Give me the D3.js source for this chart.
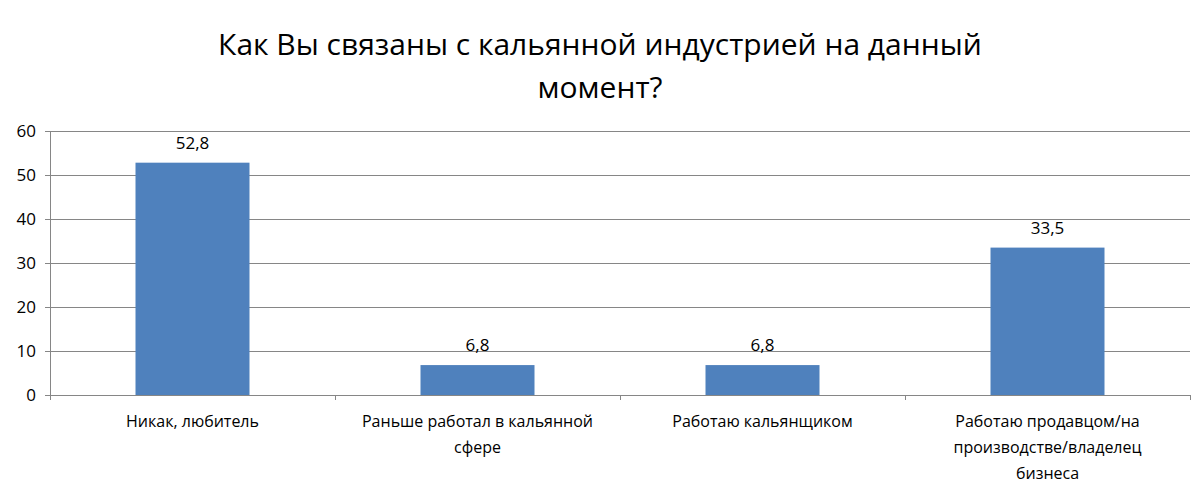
<!DOCTYPE html>
<html><head><meta charset="utf-8">
<script src="https://cdn.jsdelivr.net/npm/d3@7"></script>
<style>body{margin:0;background:#fff}</style></head>
<body><svg id="c" width="1200" height="492"></svg>
<script>
const categories = [["Никак, любитель"],["Раньше работал в кальянной","сфере"],["Работаю кальянщиком"],["Работаю продавцом/на","производстве/владелец","бизнеса"]];
const values = [52.8, 6.8, 6.8, 33.5];
const valueLabels = ["52,8","6,8","6,8","33,5"];
const yTicks = [0,10,20,30,40,50,60];
const titleLines = ["Как Вы связаны с кальянной индустрией на данный","момент?"];

const svg = d3.select("#c");
const font = "'Open Sans', 'Liberation Sans', sans-serif";
const L=50, R=1190, T=131, B=395;
const x = d3.scaleBand().domain(d3.range(categories.length)).range([L,R]).paddingInner(0.6).paddingOuter(0.3);
const y = d3.scaleLinear().domain([0,60]).range([B,T]);

svg.selectAll(".t").data(titleLines).enter().append("text")
  .attr("x",600).attr("y",(d,i)=>55+i*43).attr("text-anchor","middle")
  .attr("font-family",font).attr("font-size",30).attr("fill","#000").text(d=>d);

svg.selectAll(".g").data(yTicks).enter().append("line")
  .attr("x1",L-5).attr("x2",R).attr("y1",d=>y(d)).attr("y2",d=>y(d))
  .attr("stroke",d=>d===0?"#868686":"#868686").attr("stroke-width",1).attr("shape-rendering","crispEdges");
svg.append("line").attr("x1",L).attr("x2",L).attr("y1",T).attr("y2",B).attr("stroke","#868686").attr("shape-rendering","crispEdges");
svg.selectAll(".yl").data(yTicks).enter().append("text")
  .attr("x",L-14).attr("y",d=>y(d)+6).attr("text-anchor","end")
  .attr("font-family",font).attr("font-size",17).text(d=>d);

const step=(R-L)/categories.length;
svg.selectAll(".xt").data(d3.range(categories.length+1)).enter().append("line")
  .attr("x1",i=>L+i*step).attr("x2",i=>L+i*step).attr("y1",B).attr("y2",B+5)
  .attr("stroke","#868686").attr("shape-rendering","crispEdges");

svg.selectAll(".b").data(values).enter().append("rect")
  .attr("x",(d,i)=>x(i)).attr("width",x.bandwidth()).attr("y",d=>y(d)).attr("height",d=>B-y(d))
  .attr("fill","#4f81bd");
svg.selectAll(".v").data(values).enter().append("text")
  .attr("x",(d,i)=>x(i)+x.bandwidth()/2).attr("y",d=>y(d)-14).attr("text-anchor","middle")
  .attr("font-family",font).attr("font-size",17).text((d,i)=>valueLabels[i]);

categories.forEach((lines,i)=>{
  const cx=x(i)+x.bandwidth()/2;
  lines.forEach((s,j)=>svg.append("text").attr("x",cx).attr("y",427+j*26).attr("text-anchor","middle")
    .attr("font-family",font).attr("font-size",16).text(s));
});
</script></body></html>
